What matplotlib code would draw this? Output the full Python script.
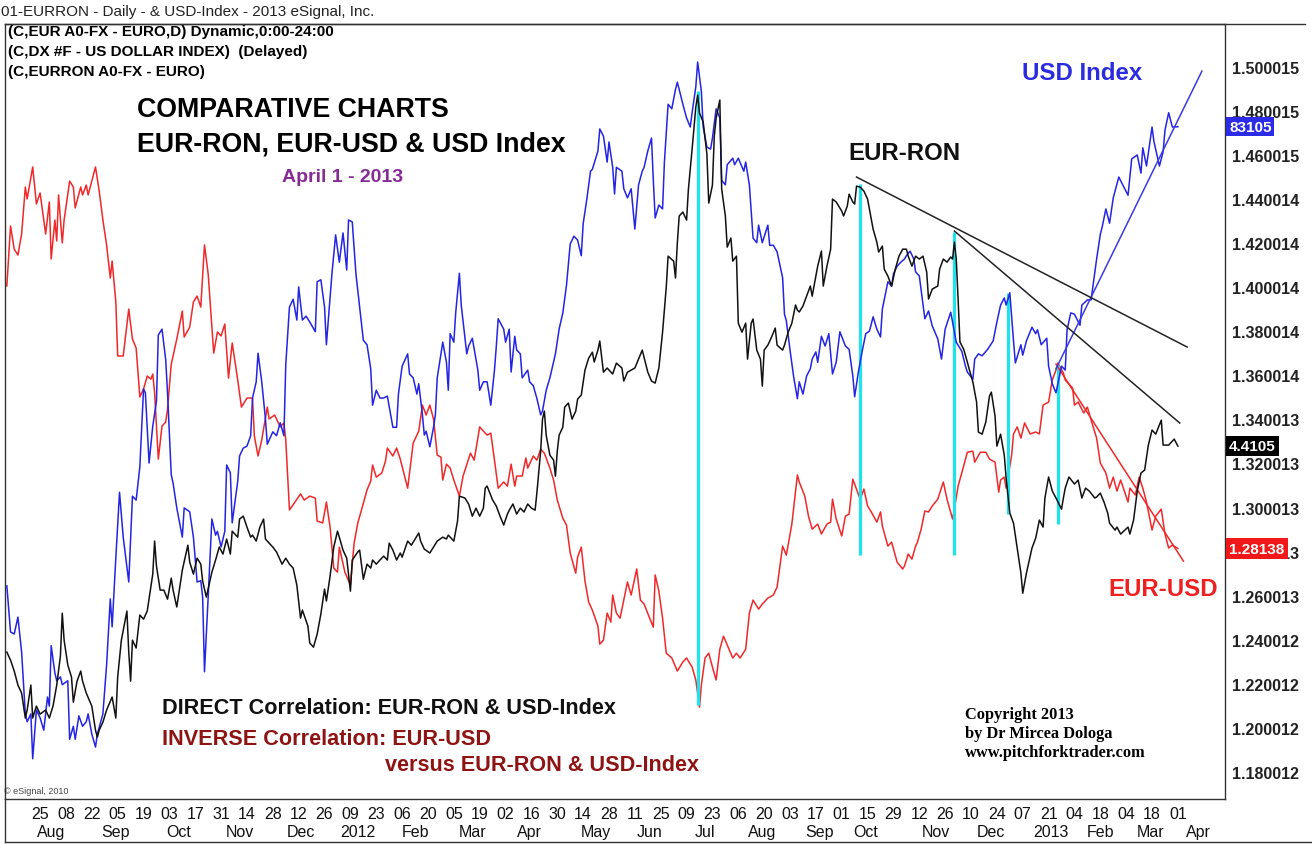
import matplotlib
matplotlib.use("Agg")
import matplotlib.pyplot as plt
import matplotlib.dates as mdates
import matplotlib.transforms as mtransforms
from matplotlib.lines import Line2D
import pandas as pd

start = pd.Timestamp("2011-07-06")

# EUR-USD daily close (right scale), x = days after start
eurusd_day = [1, 3, 5, 7, 9, 11, 12, 15, 17, 19, 22, 24, 25, 27, 28, 29, 31, 32, 35, 37,
              38, 41, 42, 44, 45, 49, 51, 53, 55, 57, 58, 60, 61, 64, 67, 69, 71, 73, 75, 77,
              79, 80, 81, 83, 85, 87, 88, 90, 91, 93, 96, 97, 100, 102, 104,
              106, 108, 110, 113, 115, 117, 119, 121, 123, 126, 128, 131, 134, 135, 137, 139, 142, 143, 146, 149,
              151, 152, 154, 157, 160, 162, 165, 168, 169, 172, 174, 176, 178, 180, 181, 184, 187, 189, 191, 193,
              196, 198, 199, 201, 204, 206, 207, 210, 212,
              214, 218, 221, 224, 226, 228, 230, 232, 234, 236, 237, 239, 241, 243, 246, 248, 252, 254, 257, 259,
              261, 263, 265, 267, 270, 272, 274, 276, 277, 280, 282, 283, 286, 288, 290, 292, 295, 297, 299, 302,
              304, 306, 309, 310, 312, 314, 316, 318, 321,
              322, 324, 326, 328, 329, 331, 333, 335, 337, 339, 342, 344, 346, 349, 351, 352, 354, 356, 358, 361,
              364, 367, 369, 372, 374, 376, 377, 379, 381, 383, 385, 387, 389, 391, 394, 396, 398, 401, 403, 405,
              408, 410, 413, 416, 418, 421, 423, 426, 429,
              430, 433, 435, 437, 440, 442, 445, 447, 448, 450, 453, 455, 457, 459, 461, 463, 465, 467, 469, 472,
              474, 475, 478, 480, 483, 486, 487, 489, 491, 493, 494, 496, 498, 500, 502, 505, 508, 510, 513, 514,
              516, 519, 521, 524, 525, 528, 531, 533, 536, 538,
              539, 541, 542, 545, 546, 548, 550, 552, 555, 558, 560, 562, 565, 567, 569, 570, 573, 574, 578, 579,
              581, 584, 586, 588, 591, 593, 596, 598, 600, 602, 604, 608, 609, 612, 614, 616, 618, 621, 623, 626,
              628, 630, 632, 635]
eurusd = [1.4006, 1.4278, 1.4173, 1.4146, 1.4242, 1.4455, 1.4401, 1.4546, 1.4378, 1.4428,
          1.4242, 1.4387, 1.4128, 1.4305, 1.4210, 1.4419, 1.4201, 1.4305, 1.4482, 1.4455,
          1.4360, 1.4455, 1.4419, 1.4464, 1.4419, 1.4546, 1.4437, 1.4305, 1.4192, 1.4042,
          1.4119, 1.3933, 1.3688, 1.3688, 1.3901, 1.3765, 1.3724, 1.3502, 1.3538, 1.3597,
          1.3583, 1.3606, 1.3520, 1.3220, 1.3370, 1.3388, 1.3447, 1.3651, 1.3688, 1.3765,
          1.3892, 1.3774, 1.3819, 1.3933, 1.3960,
          1.3910, 1.4192, 1.4060, 1.3701, 1.3797, 1.3779, 1.3833, 1.3588, 1.3747, 1.3579,
          1.3456, 1.3497, 1.3497, 1.3325, 1.3234, 1.3307, 1.3456, 1.3402, 1.3420, 1.3366,
          1.3384, 1.3307, 1.2989, 1.3025, 1.3062, 1.3034, 1.3052, 1.3043, 1.2939, 1.2930,
          1.3025, 1.2911, 1.2725, 1.2707, 1.2820, 1.2707, 1.2648, 1.2838, 1.2930, 1.2989,
          1.3080, 1.3120, 1.3193, 1.3138, 1.3157, 1.3211, 1.3270, 1.3234, 1.3270,
          1.3220, 1.3088, 1.3293, 1.3347, 1.3465, 1.3420, 1.3465, 1.3402, 1.3238, 1.3229,
          1.3125, 1.3197, 1.3179, 1.3125, 1.3052, 1.3143, 1.3247, 1.3215, 1.3366, 1.3347,
          1.3329, 1.3338, 1.3215, 1.3088, 1.3116, 1.3097, 1.3197, 1.3097, 1.3143, 1.3143,
          1.3225, 1.3179, 1.3234, 1.3215, 1.3265, 1.3247, 1.3179, 1.3125, 1.3034, 1.2952,
          1.2920, 1.2793, 1.2702, 1.2775, 1.2820, 1.2666, 1.2571, 1.2534, 1.2462,
          1.2380, 1.2398, 1.2521, 1.2480, 1.2603, 1.2521, 1.2498, 1.2580, 1.2662, 1.2603,
          1.2721, 1.2580, 1.2562, 1.2498, 1.2457, 1.2694, 1.2621, 1.2498, 1.2339, 1.2317,
          1.2258, 1.2299, 1.2317, 1.2276, 1.2217, 1.2094, 1.2194, 1.2317, 1.2339, 1.2276,
          1.2217, 1.2357, 1.2416, 1.2376, 1.2317, 1.2339, 1.2317, 1.2357, 1.2521, 1.2580,
          1.2539, 1.2562, 1.2589, 1.2603, 1.2639, 1.2825, 1.2784, 1.2925, 1.3148,
          1.3116, 1.3052, 1.2961, 1.2902, 1.2925, 1.2880, 1.2925, 1.2934, 1.3038, 1.2948,
          1.2871, 1.2961, 1.2970, 1.3129, 1.3084, 1.3038, 1.3084, 1.3007, 1.2980, 1.2934,
          1.2980, 1.2916, 1.2825, 1.2843, 1.2752, 1.2721, 1.2735, 1.2789, 1.2766, 1.2825,
          1.2843, 1.2902, 1.2984, 1.2980, 1.3007, 1.3038, 1.3116, 1.3038, 1.2948, 1.2993,
          1.3097, 1.3188, 1.3251, 1.3256, 1.3206, 1.3251, 1.3251, 1.3220, 1.3206, 1.3070,
          1.3125, 1.3138, 1.3088, 1.3238, 1.3334, 1.3366, 1.3315, 1.3384, 1.3334, 1.3343,
          1.3334, 1.3465, 1.3479, 1.3579, 1.3624, 1.3656, 1.3611, 1.3579, 1.3542, 1.3465,
          1.3479, 1.3429, 1.3456, 1.3397, 1.3315, 1.3202, 1.3157, 1.3088, 1.3138, 1.3075,
          1.3125, 1.3025, 1.3088, 1.3057, 1.3138, 1.3088, 1.3025, 1.2898, 1.2961, 1.2993,
          1.2880, 1.2816, 1.2830, 1.2814]

# US dollar index (own hidden scale)
usd_day = [1, 3, 5, 7, 9, 11, 12, 14, 15, 17, 19, 21, 23, 24, 25, 27, 28, 30, 31, 34,
           35, 37, 38, 40, 42, 44, 45, 47, 49, 50, 53, 55, 57, 58, 60, 62, 64, 67, 69, 71,
           73, 75, 76, 78, 80, 82, 83, 85, 87, 88, 90, 91, 93, 96, 97, 100, 102, 104,
           106, 107, 108, 110, 112, 114, 115, 117, 119, 120, 122, 123, 126, 127, 129, 131, 133, 134, 136, 137,
           139, 141, 142, 145, 147, 149, 151, 152, 154, 156, 158, 159, 161, 163, 165, 168, 169, 171, 173, 174,
           177, 179, 181, 183, 185, 186, 188, 190, 192, 194, 196, 198, 199, 201, 203, 205, 207, 210, 212, 213,
           215, 218, 219, 221, 223, 224, 226, 227, 228, 230, 232, 233, 234, 237, 239, 240, 241, 243, 244, 246,
           247, 250, 251, 253, 256, 257, 259, 261, 263, 265, 266, 267, 270, 271, 273, 274, 276, 277, 279, 280,
           283, 284, 286, 288, 290, 291, 293, 295, 298, 300, 302, 304, 306, 308, 310, 312, 313, 315, 317, 318,
           321,
           322, 324, 326, 327, 329, 330, 331, 334, 335, 337, 339, 341, 343, 345, 346, 348, 350, 351, 352, 354,
           356, 357, 359, 361, 363, 364, 367, 369, 371, 372, 374, 375, 377, 378, 380, 382, 383, 385, 387, 388,
           390, 391, 394, 395, 397, 400, 401, 403, 405, 407, 408, 410, 413, 414, 416, 418, 421, 422, 423, 425,
           427, 429,
           430, 432, 434, 436, 437, 439, 440, 442, 444, 446, 448, 450, 452, 455, 457, 459, 460, 462, 464, 466,
           468, 470, 472, 474, 475, 478, 480, 481, 483, 485, 487, 488, 490, 492, 493, 495, 498, 500, 502, 505,
           507, 509, 512, 513, 515, 518, 520, 521, 524, 525, 527, 529, 532, 535, 537,
           539, 541, 542, 544, 546, 547, 550, 551, 553, 556, 558, 559, 561, 564, 565, 567, 569, 572, 574, 575,
           577, 579, 582, 583, 586, 588, 591, 593, 594, 596, 598, 600, 602, 603, 606, 608, 610, 613, 615, 616,
           618, 621, 622, 625, 627, 628, 630, 632, 635]
usd = [76.04, 75.33, 75.30, 75.56, 75.02, 74.07, 73.95, 74.07, 73.38, 74.13,
       74.01, 73.82, 74.33, 74.19, 75.12, 74.70, 74.58, 74.64, 74.52, 74.58,
       73.68, 73.88, 73.68, 74.04, 73.88, 73.95, 74.07, 73.76, 73.56, 73.76,
       74.07, 74.82, 75.84, 75.41, 76.47, 77.48, 76.79, 76.10, 77.42, 77.36,
       77.87, 79.07, 79.01, 77.93, 78.50, 78.88, 79.90, 79.99, 79.52, 79.01,
       77.75, 77.62, 77.24, 76.79, 77.24, 77.18, 76.79, 76.10,
       76.12, 75.87, 74.72, 75.87, 77.07, 76.82, 76.88, 76.64, 76.88, 77.90,
       77.78, 77.01, 77.65, 78.04, 78.16, 78.19, 78.35, 78.93, 79.18, 79.62,
       79.18, 78.61, 78.22, 78.41, 78.35, 78.55, 78.35, 79.44, 80.33, 80.45,
       80.13, 80.64, 80.13, 80.19, 80.10, 79.95, 80.72, 80.75, 80.33, 79.75,
       80.84, 81.44, 81.02, 81.47, 80.90, 81.67, 81.64, 80.84, 80.33, 79.82,
       79.75, 79.38, 78.82, 79.05, 78.93, 78.93, 78.96, 78.48, 78.48, 78.99,
       79.42, 79.61, 79.30, 79.24, 78.99, 79.15, 78.67, 78.36, 78.42, 78.18,
       78.48, 78.67, 79.24, 79.79, 79.48, 79.05, 79.92, 79.79, 80.24, 80.85,
       80.36, 79.61, 79.73, 79.85, 79.36, 79.05, 79.18, 79.18, 78.82, 79.36,
       79.73, 80.15, 79.99, 79.79, 79.99, 79.33, 79.88, 79.67, 79.61, 79.24,
       79.36, 79.18, 79.12, 78.92, 78.67, 78.73, 79.05, 79.24, 79.61, 79.99,
       80.24, 80.67, 81.30, 81.42, 81.36, 81.12, 81.61, 81.99, 82.42, 82.45,
       82.73,
       83.07, 82.96, 82.56, 82.87, 82.48, 82.07, 82.48, 82.42, 82.15, 82.01,
       82.15, 81.53, 82.21, 82.42, 82.48, 82.73, 82.93, 82.28, 81.70, 81.90,
       81.84, 82.56, 83.45, 83.38, 83.68, 83.79, 83.45, 83.24, 83.10, 83.32,
       83.72, 84.10, 83.65, 83.10, 82.79, 82.76, 82.93, 83.38, 83.24, 82.28,
       82.21, 82.52, 82.62, 82.52, 82.62, 82.42, 82.56, 82.21, 81.39, 81.32,
       81.59, 81.32, 81.59, 81.28, 81.28, 81.18, 80.78, 80.22, 80.12, 79.67,
       79.25, 78.92,
       79.18, 78.99, 79.27, 79.38, 79.53, 79.64, 79.48, 79.88, 79.73, 79.92,
       79.30, 79.48, 79.95, 79.73, 79.68, 79.27, 78.95, 79.33, 79.64, 79.92,
       79.96, 80.18, 79.99, 79.87, 80.30, 80.72, 80.65, 80.84, 80.96, 81.02,
       81.07, 81.12, 81.19, 81.07, 80.87, 80.81, 80.15, 80.27, 80.04, 79.84,
       79.53, 79.99, 80.25, 80.10, 79.79, 79.65, 79.42, 79.33, 79.22, 79.53,
       79.61, 79.58, 79.68, 79.81, 80.10,
       80.36, 80.47, 80.36, 80.55, 79.81, 79.47, 79.75, 79.59, 79.81, 80.02,
       79.92, 79.98, 79.75, 79.85, 79.42, 79.15, 79.01, 79.42, 79.36, 79.98,
       80.24, 80.22, 80.05, 80.36, 80.44, 80.44, 81.07, 81.45, 81.56, 81.84,
       81.62, 82.01, 82.22, 82.33, 82.16, 82.05, 82.61, 82.67, 82.39, 82.78,
       82.50, 83.10, 82.88, 82.50, 82.72, 83.05, 83.32, 83.10, 83.105]

# EUR-RON (own hidden scale)
ron_day = [1, 3, 5, 7, 9, 11, 12, 14, 15, 17, 19, 22, 24, 26, 28, 30, 31, 32, 34, 36,
           37, 39, 41, 42, 44, 47, 49, 50, 51, 53, 55, 58, 60, 61, 63, 66, 67, 68, 69, 71,
           73, 75, 77, 80, 81, 82, 84, 86, 88, 90, 91, 93, 95, 96, 99, 100, 102, 104,
           106, 107, 109, 112, 114, 116, 118, 120, 122, 123, 126, 127, 129, 131, 133, 134, 136, 138, 140, 141,
           143, 145, 147, 150, 152, 154, 156, 158, 160, 161, 164, 165, 167, 169, 171, 173, 174, 176, 178, 180,
           181, 183, 185, 187, 188, 191, 192, 194, 196, 198, 199, 201, 203, 205, 207, 208, 210, 212,
           214, 215, 218, 220, 222, 224, 225, 227, 230, 232, 234, 237, 239, 240, 243, 245, 246, 249, 251, 253,
           255, 257, 259, 260, 261, 264, 266, 268, 270, 272, 273, 275, 277, 279, 281, 283, 285, 287, 288, 290,
           291, 292, 293, 295, 297, 298, 299, 300, 302, 303, 305, 307, 309, 310, 312, 314, 316, 318, 319, 321,
           322, 324, 326, 329, 331, 334, 335, 337, 339, 341, 343, 345, 348, 350, 352, 354, 356, 358, 359, 362,
           363, 364, 365, 367, 369, 370, 372, 374, 375, 376, 378, 380, 381, 383, 384, 385, 387, 388, 390, 391,
           393, 394, 396, 397, 399, 401, 402, 404, 405, 407, 409, 410, 411, 413, 415, 417, 418, 421, 422, 424,
           426, 428, 429,
           430, 432, 434, 436, 437, 439, 440, 442, 443, 445, 447, 448, 450, 453, 454, 456, 457, 459, 460, 461,
           463, 465, 467, 468, 470, 472, 473, 475, 476, 478, 480, 482, 484, 486, 488, 489, 491, 493, 495, 497,
           499, 500, 502, 505, 506, 508, 510, 512, 513, 514, 515, 516, 517, 519, 521, 522, 524, 526, 527, 529,
           531, 533, 534, 536, 537,
           539, 541, 542, 544, 546, 548, 550, 551, 553, 556, 558, 560, 562, 563, 565, 567, 569, 572, 573, 574,
           576, 579, 581, 583, 585, 587, 590, 591, 593, 595, 597, 598, 601, 602, 604, 608, 609, 611, 613, 615,
           617, 619, 621, 623, 626, 627, 630, 633, 635]
ron = [4.3105, 4.3066, 4.3013, 4.2945, 4.2906, 4.2785, 4.2824, 4.2945, 4.2785, 4.2843,
       4.2804, 4.2824, 4.2785, 4.2843, 4.2945, 4.3086, 4.3294, 4.3163, 4.3042, 4.2984,
       4.2862, 4.2964, 4.3013, 4.2964, 4.2906, 4.2843, 4.2726, 4.2692, 4.2726, 4.2765,
       4.2824, 4.2887, 4.2785, 4.2984, 4.3163, 4.3304, 4.3105, 4.2964, 4.3163, 4.3125,
       4.3285, 4.3265, 4.3304, 4.3484, 4.3644, 4.3523, 4.3406, 4.3406, 4.3362, 4.3464,
       4.3406, 4.3324, 4.3445, 4.3503, 4.3624, 4.3542, 4.3484, 4.3561,
       4.3532, 4.3450, 4.3372, 4.3493, 4.3552, 4.3615, 4.3581, 4.3654, 4.3581, 4.3692,
       4.3663, 4.3751, 4.3765, 4.3712, 4.3663, 4.3673, 4.3644, 4.3712, 4.3751, 4.3654,
       4.3634, 4.3615, 4.3591, 4.3532, 4.3561, 4.3532, 4.3513, 4.3430, 4.3270, 4.3309,
       4.3231, 4.3149, 4.3129, 4.3192, 4.3290, 4.3411, 4.3353, 4.3474, 4.3615, 4.3692,
       4.3663, 4.3600, 4.3561, 4.3401, 4.3552, 4.3591, 4.3600, 4.3459, 4.3532, 4.3513,
       4.3552, 4.3532, 4.3552, 4.3571, 4.3552, 4.3634, 4.3600, 4.3552,
       4.3586, 4.3566, 4.3644, 4.3624, 4.3654, 4.3683, 4.3644, 4.3605, 4.3586, 4.3615,
       4.3644, 4.3663, 4.3654, 4.3673, 4.3644, 4.3741, 4.3862, 4.3853, 4.3824, 4.3765,
       4.3804, 4.3765, 4.3804, 4.3901, 4.3911, 4.3843, 4.3814, 4.3765, 4.3722, 4.3775,
       4.3794, 4.3824, 4.3775, 4.3804, 4.3785, 4.3824, 4.3804, 4.3794, 4.3882, 4.4081,
       4.4236, 4.4275, 4.4158, 4.4061, 4.4037, 4.3959, 4.4081, 4.4158, 4.4197, 4.4294,
       4.4314, 4.4236, 4.4275, 4.4333, 4.4353, 4.4474, 4.4532, 4.4561, 4.4513, 4.4571,
       4.4615, 4.4464, 4.4484, 4.4455, 4.4508, 4.4484, 4.4421, 4.4464, 4.4474, 4.4484,
       4.4527, 4.4571, 4.4464, 4.4421, 4.4411, 4.4484, 4.4658, 4.4877, 4.5027, 4.5003,
       4.4921, 4.5091, 4.5222, 4.5241, 4.5202, 4.5353, 4.5547, 4.5751, 4.5809, 4.5722,
       4.5678, 4.5523, 4.5285, 4.5372, 4.5610, 4.5697, 4.5785, 4.5353, 4.5222, 4.5071,
       4.5115, 4.5003, 4.5027, 4.4702, 4.4658, 4.4702, 4.4527, 4.4702, 4.4722, 4.4571,
       4.4527, 4.4396, 4.4571, 4.4595, 4.4634, 4.4678, 4.4595, 4.4571, 4.4595, 4.4658,
       4.4702, 4.4790, 4.4765,
       4.4756, 4.4785, 4.4833, 4.4882, 4.4833, 4.4930, 4.4979, 4.5052, 4.4882, 4.4979,
       4.5061, 4.5304, 4.5290, 4.5246, 4.5222, 4.5270, 4.5328, 4.5290, 4.5280, 4.5367,
       4.5362, 4.5343, 4.5304, 4.5256, 4.5158, 4.5095, 4.5047, 4.5076, 4.4964, 4.4930,
       4.4882, 4.4964, 4.5027, 4.5061, 4.5061, 4.5027, 4.4979, 4.5027, 4.5013, 4.5027,
       4.4950, 4.4819, 4.4867, 4.4882, 4.4964, 4.5013, 4.4998, 4.5023, 4.5013, 4.5095,
       4.5013, 4.4819, 4.4610, 4.4576, 4.4513, 4.4479, 4.4416, 4.4319, 4.4173, 4.4163,
       4.4222, 4.4348, 4.4367, 4.4251, 4.4105,
       4.4163, 4.4061, 4.3950, 4.3780, 4.3731, 4.3610, 4.3489, 4.3391, 4.3489, 4.3610,
       4.3658, 4.3746, 4.3712, 4.3853, 4.3955, 4.3887, 4.3853, 4.3799, 4.3853, 4.3901,
       4.3955, 4.3921, 4.3940, 4.3853, 4.3901, 4.3887, 4.3853, 4.3858, 4.3877, 4.3833,
       4.3780, 4.3731, 4.3697, 4.3712, 4.3678, 4.3712, 4.3678, 4.3746, 4.3887, 4.3974,
       4.3989, 4.4110, 4.4183, 4.4163, 4.4231, 4.4110, 4.4110, 4.4139, 4.4105]

# drawn annotations
cyan_day = [375, 463, 514, 543, 570]
cyan_top = [1.4891, 1.4469, 1.4251, 1.3974, 1.3647]
cyan_bottom = [1.2103, 1.2784, 1.2784, 1.2970, 1.2925]
ron_trends = [([461, 640], [4.5411, 4.4586]), ([514, 636], [4.5149, 4.4217])]
usd_trend = ([569, 648], [79.38, 83.96])
eurusd_trend = ([569, 638], [1.3651, 1.2757])

eurusd_ticks = [1.180012, 1.200012, 1.220012, 1.240012, 1.260013, 1.280013, 1.300013,
                1.320013, 1.340013, 1.360014, 1.380014, 1.400014, 1.420014, 1.440014,
                1.460015, 1.480015, 1.500015]
tick_dates = pd.date_range("2011-07-25", "2013-04-01", freq="14D")
month_names = ["Aug", "Sep", "Oct", "Nov", "Dec", "2012", "Feb", "Mar", "Apr", "May", "Jun",
               "Jul", "Aug", "Sep", "Oct", "Nov", "Dec", "2013", "Feb", "Mar", "Apr"]
month_pos = ["2011-07-31", "2011-09-04", "2011-10-08", "2011-11-10", "2011-12-13", "2012-01-13",
             "2012-02-13", "2012-03-15", "2012-04-15", "2012-05-21", "2012-06-19", "2012-07-19",
             "2012-08-19", "2012-09-19", "2012-10-14", "2012-11-21", "2012-12-21", "2013-01-22",
             "2013-02-18", "2013-03-17", "2013-04-12"]


def to_dates(days):
    return start + pd.to_timedelta(days, unit="D")


plt.rcParams['font.family'] = ['Liberation Sans', 'DejaVu Sans']
W, H = 1312, 845

fig = plt.figure(figsize=(W / 100, H / 100), dpi=100)
ax = fig.add_axes([5 / W, 45 / H, 1220 / W, 775 / H])
ax_usd = ax.twinx()
ax_ron = ax.twinx()

ax.plot(to_dates(eurusd_day), eurusd, color='#f0282a', lw=1.1)
ax_usd.plot(to_dates(usd_day), usd, color='#2424e4', lw=1.1)
ax_ron.plot(to_dates(ron_day), ron, color='#111111', lw=1.1)

# cyan markers and trend lines
for d, t, b in zip(cyan_day, cyan_top, cyan_bottom):
    ax.plot(to_dates([d, d]), [b, t], color='#1ee3ec', lw=2.3, solid_capstyle='butt')
for days, vals in ron_trends:
    ax_ron.plot(to_dates(days), vals, color='#222222', lw=1.1)
ax_usd.plot(to_dates(usd_trend[0]), usd_trend[1], color='#3a3ae6', lw=1.1)
ax.plot(to_dates(eurusd_trend[0]), eurusd_trend[1], color='#f02828', lw=1.1)

ax.set_xlim(start, start + pd.Timedelta(days=660.5))
ax.set_ylim(1.1677, 1.5195)
ax_usd.set_ylim(72.761, 84.685)
ax_ron.set_ylim(4.2392, 4.6154)
ax_usd.axis('off')
ax_ron.axis('off')

ax.yaxis.tick_right()
ax.set_yticks(eurusd_ticks)
ax.set_yticklabels(['%.6f' % v for v in eurusd_ticks])
ax.tick_params(axis='y', length=0, pad=5, labelsize=11.5, labelcolor='#222222')
for lab in ax.get_yticklabels():
    lab.set_fontweight('bold')

ax.set_xticks(tick_dates)
ax.set_xticklabels([d.strftime('%d') for d in tick_dates])
ax.tick_params(axis='x', length=0, pad=5, labelsize=11.5, labelcolor='#111111')
trans = mtransforms.blended_transform_factory(ax.transData, ax.transAxes)
for name, pos in zip(month_names, month_pos):
    ax.text(mdates.date2num(pd.Timestamp(pos)), -0.042, name, transform=trans,
            ha='center', va='center', fontsize=11.5, color='#111111')

for sp in ax.spines.values():
    sp.set_color('#333333')
    sp.set_linewidth(1.0)

# frame pieces outside the plot
fig.add_artist(Line2D([5 / W, 1305 / W], [1 - 25 / H] * 2, color='#333333', lw=1))
fig.add_artist(Line2D([5 / W, 1312 / W], [1 - 843 / H] * 2, color='#333333', lw=1))
fig.add_artist(Line2D([5 / W, 5 / W], [1 - 800 / H, 1 - 843 / H], color='#333333', lw=1))

# last value boxes on the right axis
box_kw = dict(fontsize=11, fontweight='bold', va='center', ha='left', color='white', zorder=5)
ax_usd.text(1.0033, usd[-1], '83105', transform=ax_usd.get_yaxis_transform(),
            bbox=dict(boxstyle='square,pad=0.18', fc='#2b2be8', ec='none'), **box_kw)
ax_ron.text(1.0033, ron[-1], '4.4105', transform=ax_ron.get_yaxis_transform(),
            bbox=dict(boxstyle='square,pad=0.18', fc='#000000', ec='none'), **box_kw)
ax.text(1.0033, eurusd[-1], '1.28138', transform=ax.get_yaxis_transform(),
        bbox=dict(boxstyle='square,pad=0.22', fc='#f01818', ec='none'), **box_kw)


def ftext(x, y, s, **kw):
    fig.text(x / W, 1 - y / H, s, va='center', **kw)


ftext(1, 12, '01-EURRON - Daily - & USD-Index - 2013 eSignal, Inc.', fontsize=11, color='#222222')
ftext(8, 32, '(C,EUR A0-FX - EURO,D) Dynamic,0:00-24:00', fontsize=11, fontweight='bold')
ftext(8, 52, '(C,DX #F - US DOLLAR INDEX)  (Delayed)', fontsize=11, fontweight='bold')
ftext(8, 72, '(C,EURRON A0-FX - EURO)', fontsize=11, fontweight='bold')
ftext(137, 110, 'COMPARATIVE CHARTS', fontsize=19.3, fontweight='bold')
ftext(137, 145, 'EUR-RON, EUR-USD & USD Index', fontsize=19.3, fontweight='bold')
ftext(343, 178, 'April 1 - 2013', fontsize=14, fontweight='bold', color='#862a96', ha='center')
ftext(848, 154, 'EUR-RON', fontsize=17.3, fontweight='bold', color='#111111')
ftext(1022, 73, 'USD Index', fontsize=17.3, fontweight='bold', color='#2b2be0')
ftext(1108, 590, 'EUR-USD', fontsize=17.3, fontweight='bold', color='#f02020')
ftext(162, 709, 'DIRECT Correlation: EUR-RON & USD-Index', fontsize=15.6, fontweight='bold',
      color='#111111')
ftext(162, 740, 'INVERSE Correlation: EUR-USD', fontsize=15.6, fontweight='bold', color='#8e1414')
ftext(385, 766, 'versus EUR-RON & USD-Index', fontsize=15.6, fontweight='bold', color='#8e1414')
for i, line in enumerate(['Copyright 2013', 'by Dr Mircea Dologa', 'www.pitchforktrader.com']):
    ftext(965, 715 + 19 * i, line, fontsize=11.8, fontweight='bold', family='Liberation Serif')
ftext(4, 792, '\u00a9 eSignal, 2010', fontsize=6.5, color='#444444')

fig.savefig('out.png', dpi=100, facecolor='white')
